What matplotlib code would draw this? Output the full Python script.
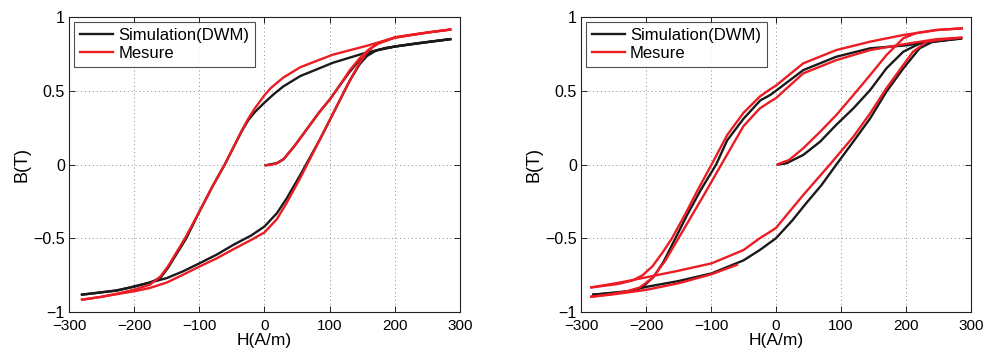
import matplotlib
matplotlib.use("Agg")
import matplotlib.pyplot as plt

plt.rcParams['font.family'] = ['Liberation Sans', 'DejaVu Sans']

# ---------------- left panel ----------------
# simulation (DWM)
L_sim_init_H = [2, 19, 29, 45, 55, 70, 85, 100, 116, 131, 146, 162, 185, 230, 285]
L_sim_init_B = [-0.005, 0.01, 0.035, 0.12, 0.18, 0.27, 0.36, 0.44, 0.54, 0.63, 0.71, 0.76, 0.79, 0.82, 0.85]
L_sim_desc_H = [285, 250, 200, 157, 105, 55, 29, 15, 0, -15, -25, -35, -61, -80, -100, -120,
                -148, -160, -176, -201, -227, -252, -280]
L_sim_desc_B = [0.85, 0.83, 0.80, 0.76, 0.69, 0.60, 0.53, 0.48, 0.42, 0.355, 0.30, 0.225, 0.0,
                -0.15, -0.32, -0.50, -0.70, -0.77, -0.80, -0.83, -0.853, -0.867, -0.882]
L_sim_asc_H = [-280, -227, -200, -176, -150, -125, -99, -73, -48, -20, 0, 19, 34, 55, 70, 85,
               100, 116, 131, 146, 157, 172, 200, 250, 285]
L_sim_asc_B = [-0.882, -0.855, -0.826, -0.80, -0.77, -0.724, -0.668, -0.61, -0.545, -0.48, -0.42,
               -0.33, -0.23, -0.07, 0.05, 0.17, 0.30, 0.44, 0.57, 0.68, 0.735, 0.775, 0.80, 0.83, 0.85]
# measurement
L_mes_init_H = [2, 10, 20, 30, 45, 57, 70, 85, 100, 116, 131, 146, 160, 175, 200, 250, 285]
L_mes_init_B = [-0.005, -0.002, 0.01, 0.04, 0.12, 0.19, 0.27, 0.36, 0.44, 0.54, 0.64, 0.72, 0.78,
                0.82, 0.86, 0.895, 0.915]
L_mes_desc_H = [285, 250, 200, 157, 105, 55, 29, 10, 0, -5, -15, -25, -35, -61, -80, -100, -122,
                -148, -160, -176, -201, -227, -252, -280]
L_mes_desc_B = [0.915, 0.895, 0.86, 0.805, 0.745, 0.66, 0.59, 0.52, 0.47, 0.44, 0.38, 0.31, 0.23,
                0.0, -0.15, -0.32, -0.50, -0.69, -0.76, -0.815, -0.85, -0.876, -0.898, -0.916]
L_mes_asc_H = [-280, -252, -201, -176, -150, -125, -99, -73, -48, -20, 0, 19, 34, 55, 70, 85,
               100, 116, 131, 146, 157, 172, 201, 233, 285]
L_mes_asc_B = [-0.916, -0.898, -0.86, -0.837, -0.80, -0.747, -0.69, -0.635, -0.575, -0.51, -0.46,
               -0.37, -0.26, -0.09, 0.04, 0.17, 0.30, 0.44, 0.57, 0.69, 0.76, 0.82, 0.864,
               0.885, 0.915]

# ---------------- right panel ----------------
R_sim_init_H = [3, 16, 42, 68, 93, 119, 145, 170, 196, 221, 240, 285]
R_sim_init_B = [0.0, 0.008, 0.065, 0.155, 0.27, 0.38, 0.505, 0.652, 0.765, 0.82, 0.835, 0.856]
R_sim_desc_H = [284, 232, 201, 145, 93, 42, 0, -9, -24, -50, -75, -92, -116, -137, -155, -173,
                -188, -205, -225, -250, -281]
R_sim_desc_B = [0.853, 0.83, 0.808, 0.788, 0.731, 0.64, 0.50, 0.471, 0.435, 0.31, 0.164, 0.0,
                -0.175, -0.345, -0.503, -0.66, -0.76, -0.83, -0.86, -0.872, -0.882]
R_sim_asc_H = [-281, -227, -200, -150, -99, -50, -25, 0, 25, 47, 70, 93, 119, 145, 170, 196, 221,
               240, 285]
R_sim_asc_B = [-0.882, -0.858, -0.83, -0.79, -0.738, -0.65, -0.58, -0.5, -0.38, -0.26, -0.14, 0.0,
               0.155, 0.313, 0.494, 0.652, 0.788, 0.83, 0.856]
# measurement: initial curve, then two drifting cycles
R_mes_init_H = [3, 6, 20, 42, 68, 93, 119, 145, 170, 196, 215, 247, 286]
R_mes_init_B = [0.0, 0.008, 0.03, 0.11, 0.222, 0.336, 0.47, 0.607, 0.742, 0.856, 0.89, 0.912, 0.923]
R_mes_descA_H = [286, 247, 196, 145, 93, 42, 0, -9, -25, -50, -75, -99, -120, -140, -160, -175,
                 -190, -205, -220, -243, -284]
R_mes_descA_B = [0.923, 0.912, 0.878, 0.833, 0.776, 0.686, 0.535, 0.51, 0.46, 0.35, 0.20, 0.0,
                 -0.17, -0.34, -0.50, -0.60, -0.69, -0.75, -0.785, -0.81, -0.833]
R_mes_ascA_H = [-284, -240, -200, -150, -99, -50, -25, -9, 0, 42, 83, 119, 145, 170, 196, 211,
                232, 260, 285]
R_mes_ascA_B = [-0.833, -0.80, -0.765, -0.72, -0.67, -0.58, -0.50, -0.456, -0.43, -0.207, 0.0,
                0.188, 0.347, 0.517, 0.675, 0.765, 0.833, 0.85, 0.86]
R_mes_descB_H = [285, 247, 196, 145, 93, 42, 0, -9, -25, -50, -84, -110, -130, -150, -170, -190,
                 -210, -230, -255, -284]
R_mes_descB_B = [0.86, 0.85, 0.815, 0.776, 0.708, 0.618, 0.45, 0.426, 0.38, 0.26, 0.0, -0.2,
                 -0.35, -0.50, -0.65, -0.77, -0.835, -0.86, -0.88, -0.896]
R_mes_ascB_H = [-284, -250, -200, -150, -100, -60]
R_mes_ascB_B = [-0.896, -0.88, -0.85, -0.805, -0.745, -0.68]

x_ticks = [-300, -200, -100, 0, 100, 200, 300]
x_labels = ['\u2212300', '\u2212200', '\u2212100', '0', '100', '200', '300']
y_ticks = [-1, -0.5, 0, 0.5, 1]
y_labels = ['\u22121', '\u22120.5', '0', '0.5', '1']

BLACK = '#1a1a1a'
RED = '#ec1c24'
LW = 1.7

fig = plt.figure(figsize=(9.84, 3.51), dpi=100)
ax1 = fig.add_axes([0.0701, 0.111, 0.3974, 0.8405])
ax2 = fig.add_axes([0.5904, 0.111, 0.3963, 0.8405])

panels = [
    (ax1,
     [(L_sim_init_H, L_sim_init_B), (L_sim_desc_H, L_sim_desc_B), (L_sim_asc_H, L_sim_asc_B)],
     [(L_mes_init_H, L_mes_init_B), (L_mes_desc_H, L_mes_desc_B), (L_mes_asc_H, L_mes_asc_B)]),
    (ax2,
     [(R_sim_init_H, R_sim_init_B), (R_sim_desc_H, R_sim_desc_B), (R_sim_asc_H, R_sim_asc_B)],
     [(R_mes_init_H, R_mes_init_B), (R_mes_descA_H, R_mes_descA_B), (R_mes_ascA_H, R_mes_ascA_B),
      (R_mes_descB_H, R_mes_descB_B), (R_mes_ascB_H, R_mes_ascB_B)]),
]

for ax, sim, mes in panels:
    for i, (h, b) in enumerate(sim):
        ax.plot(h, b, color=BLACK, lw=LW, label='Simulation(DWM)' if i == 0 else None,
                solid_joinstyle='round')
    for i, (h, b) in enumerate(mes):
        ax.plot(h, b, color=RED, lw=LW, label='Mesure' if i == 0 else None,
                solid_joinstyle='round')
    ax.set_xlim(-300, 300)
    ax.set_ylim(-1, 1)
    ax.set_xticks(x_ticks)
    ax.set_xticklabels(x_labels)
    ax.set_yticks(y_ticks)
    ax.set_yticklabels(y_labels)
    ax.tick_params(direction='in', top=True, right=True, labelsize=11.5, length=4, width=0.6)
    ax.tick_params(axis='x', pad=5, labelsize=11)
    ax.tick_params(axis='y', pad=3)
    ax.grid(True, linestyle=(0, (1, 3)), color='#888888', linewidth=0.7)
    for s in ax.spines.values():
        s.set_linewidth(0.8)
        s.set_color('#222222')
    ax.set_xlabel('H(A/m)', fontsize=12.5, labelpad=0)
    ax.set_ylabel('B(T)', fontsize=13, labelpad=2)
    leg = ax.legend(loc='upper left', fontsize=12, frameon=True, fancybox=False,
                    handlelength=2.0, handletextpad=0.3, borderpad=0.35, labelspacing=0.2,
                    borderaxespad=0.3)
    leg.get_frame().set_edgecolor('#222222')
    leg.get_frame().set_linewidth(0.8)

fig.savefig('out.png', dpi=100)
